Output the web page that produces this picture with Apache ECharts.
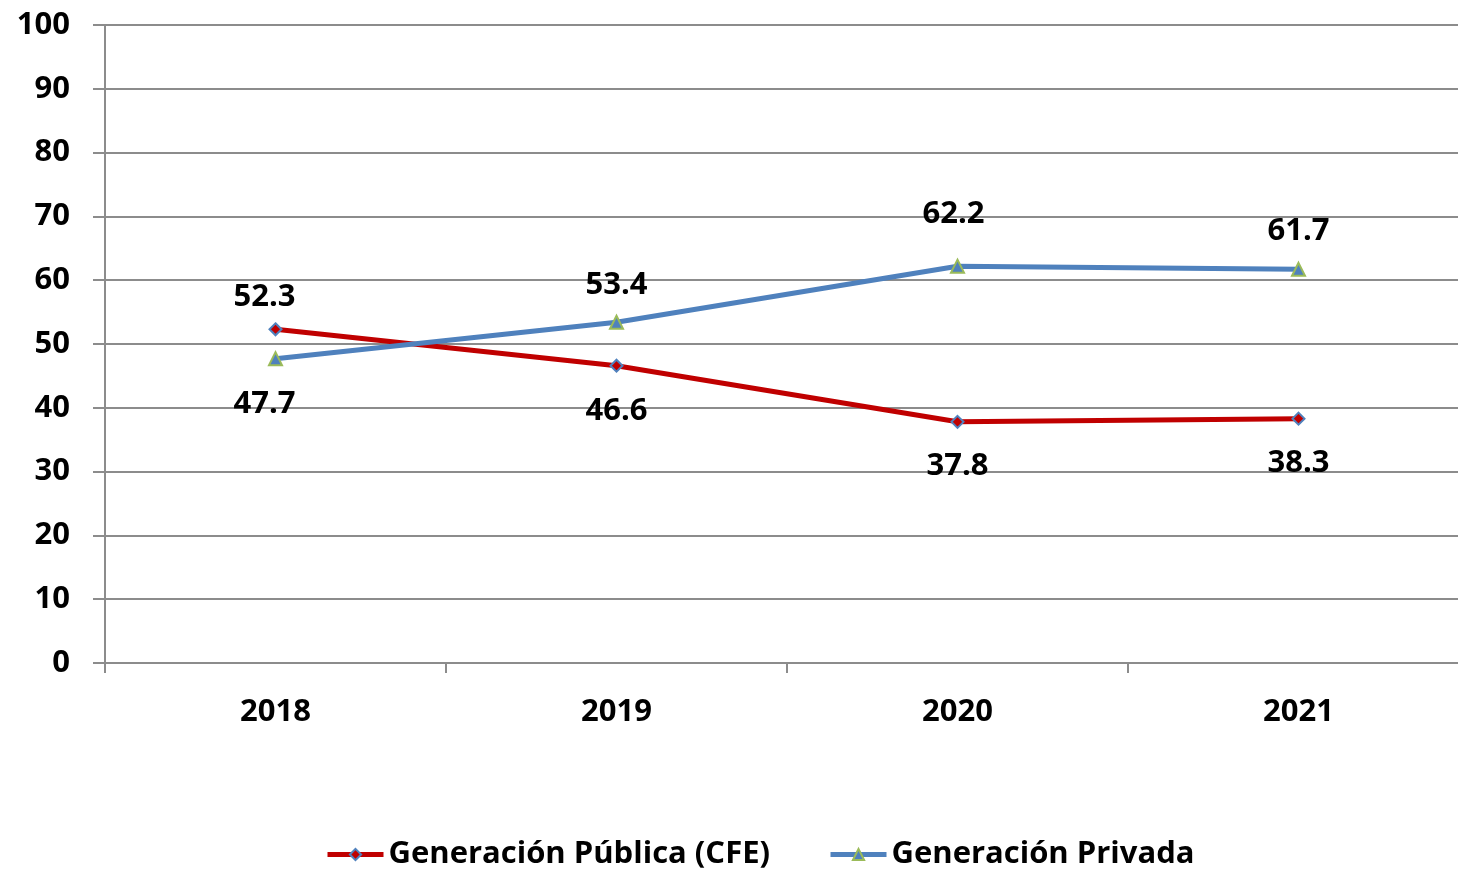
<!DOCTYPE html>
<html lang="es">
<head>
    <meta charset="UTF-8">
    <script src="https://cdn.jsdelivr.net/npm/echarts@6/dist/echarts.min.js"></script>
    <style>
        html, body { margin: 0; padding: 0; background: #fff; }
    </style>
</head>
<body>
<div style="width: 1458px;height: 871px" id="chart"></div>

<script>
    var years = ['2018', '2019', '2020', '2021']
    var publica = [52.3, 46.6, 37.8, 38.3]
    var privada = [47.7, 53.4, 62.2, 61.7]
    var yTicks = [0, 10, 20, 30, 40, 50, 60, 70, 80, 90, 100]

    var font = '"Open Sans", "Liberation Sans", sans-serif'

    // label placement per point (above / below, distance, x shift)
    var posPublica = ['top', 'bottom', 'bottom', 'bottom']
    var distPublica = [10, 23, 22, 22]
    var dxPublica = [-11, 0, 0, 0]
    var posPrivada = ['bottom', 'top', 'top', 'top']
    var distPrivada = [22, 14, 29, 15]
    var dxPrivada = [-11, 0, -4, 0]

    function withLabels(values, pos, dist, dx) {
        return values.map(function (v, i) {
            return {
                value: v,
                label: { position: pos[i], distance: dist[i], offset: [dx[i], 0] }
            }
        })
    }

    var myChart = echarts.init(document.getElementById('chart'))
    var option = {
        animation: false,
        textStyle: { fontFamily: font },
        // plot runs a little past the right edge, as in the original
        grid: {
            left: 105,
            top: 25,
            width: 1364,
            height: 638,
            outerBoundsMode: 'none'
        },
        legend: {
            top: 834,
            left: 320,
            itemWidth: 56,
            itemHeight: 14,
            itemGap: 58,
            lineStyle: { width: 5 },
            textStyle: {
                fontSize: 31,
                fontWeight: 'bold',
                color: '#000',
                fontFamily: font
            },
            data: ['Generación Pública (CFE)', 'Generación Privada']
        },
        xAxis: {
            type: 'category',
            data: years,
            boundaryGap: true,
            axisLine: { lineStyle: { color: '#8c8c8c', width: 2 } },
            axisTick: { show: true, length: 10, lineStyle: { color: '#8c8c8c', width: 2 } },
            axisLabel: {
                fontSize: 31,
                fontWeight: 'bold',
                color: '#000',
                margin: 34
            }
        },
        yAxis: {
            type: 'value',
            min: yTicks[0],
            max: yTicks[yTicks.length - 1],
            interval: 10,
            axisLine: { show: true, lineStyle: { color: '#8c8c8c', width: 2 } },
            axisTick: { show: true, length: 12, lineStyle: { color: '#8c8c8c', width: 2 } },
            splitLine: { lineStyle: { color: '#8c8c8c', width: 2 } },
            axisLabel: {
                fontSize: 31,
                fontWeight: 'bold',
                color: '#000',
                margin: 35
            }
        },
        series: [
            {
                name: 'Generación Pública (CFE)',
                type: 'line',
                data: withLabels(publica, posPublica, distPublica, dxPublica),
                symbol: 'diamond',
                symbolSize: 12,
                lineStyle: { color: '#c00000', width: 5 },
                itemStyle: { color: '#c00000', borderColor: '#4f81bd', borderWidth: 2 },
                label: {
                    show: true,
                    fontSize: 31,
                    fontWeight: 'bold',
                    color: '#000'
                }
            },
            {
                name: 'Generación Privada',
                type: 'line',
                data: withLabels(privada, posPrivada, distPrivada, dxPrivada),
                symbol: 'triangle',
                symbolSize: 13,
                lineStyle: { color: '#4f81bd', width: 5 },
                itemStyle: { color: '#4f81bd', borderColor: '#9bbb59', borderWidth: 2 },
                label: {
                    show: true,
                    fontSize: 31,
                    fontWeight: 'bold',
                    color: '#000'
                }
            }
        ]
    }

    option && myChart.setOption(option)
</script>
</body>
</html>
